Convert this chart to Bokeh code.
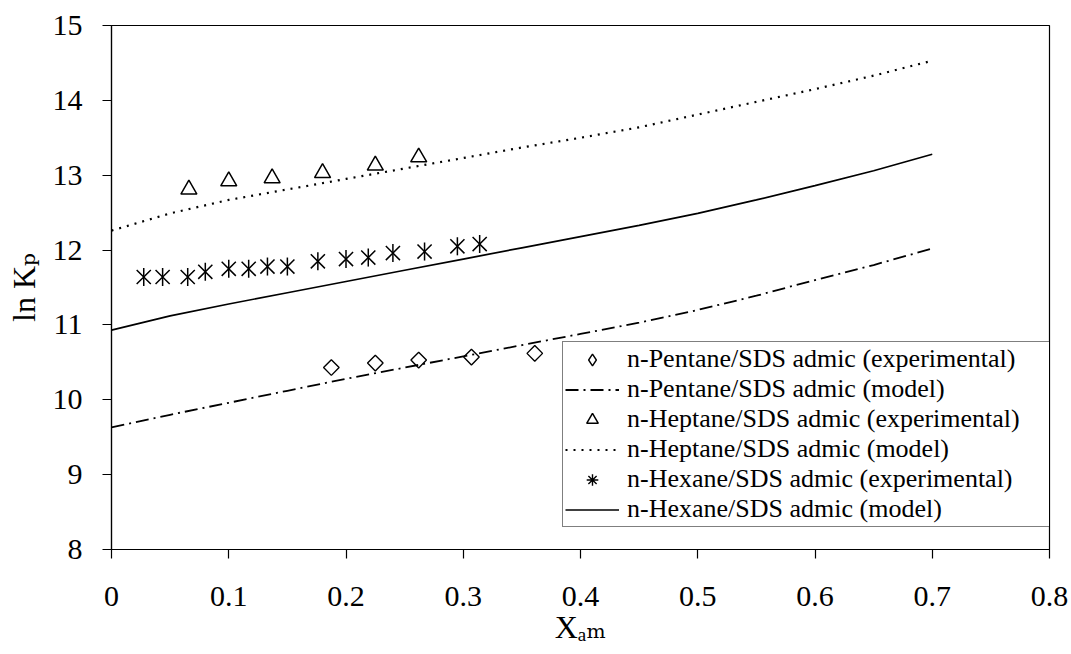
import math
from bokeh.plotting import figure
from bokeh.models import Range1d, FixedTicker, Legend, LegendItem
from bokeh.embed import file_html
from bokeh.resources import INLINE

# ---------------- data ----------------
pentane_exp_x = [0.1875, 0.225, 0.262, 0.307, 0.361]
pentane_exp_y = [10.43, 10.49, 10.53, 10.57, 10.62]

heptane_exp_x = [0.066, 0.100, 0.137, 0.180, 0.225, 0.262]
heptane_exp_y = [12.81, 12.92, 12.96, 13.03, 13.13, 13.24]

hexane_exp_x = [0.0275, 0.0436, 0.065, 0.080, 0.100, 0.117, 0.133, 0.150,
                0.176, 0.200, 0.219, 0.240, 0.267, 0.295, 0.314]
hexane_exp_y = [11.64, 11.64, 11.64, 11.71, 11.75, 11.75, 11.78, 11.78,
                11.85, 11.88, 11.90, 11.96, 11.98, 12.05, 12.08]

model_x = [0.0, 0.05, 0.1, 0.15, 0.2, 0.25, 0.3, 0.35, 0.4, 0.45, 0.5,
           0.55, 0.6, 0.65, 0.7]
pentane_model_y = [9.63, 9.80, 9.96, 10.12, 10.28, 10.43, 10.58, 10.73,
                   10.88, 11.03, 11.20, 11.39, 11.60, 11.80, 12.02]
hexane_model_y = [10.93, 11.12, 11.28, 11.43, 11.58, 11.73, 11.88, 12.03,
                  12.18, 12.33, 12.49, 12.67, 12.86, 13.06, 13.28]
heptane_model_y = [12.26, 12.49, 12.67, 12.81, 12.95, 13.09, 13.23, 13.37,
                   13.50, 13.64, 13.81, 13.98, 14.15, 14.33, 14.53]

x_ticks = [0.0, 0.1, 0.2, 0.3, 0.4, 0.5, 0.6, 0.7, 0.8]
x_tick_labels = ["0", "0.1", "0.2", "0.3", "0.4", "0.5", "0.6", "0.7", "0.8"]
y_ticks = [8, 9, 10, 11, 12, 13, 14, 15]
y_tick_labels = ["8", "9", "10", "11", "12", "13", "14", "15"]

x_title = "X\u2090\u2098"      # X_am
y_title = "ln K\u209a"         # ln K_p

legend_labels = [
    "n-Pentane/SDS admic (experimental)",
    "n-Pentane/SDS admic (model)",
    "n-Heptane/SDS admic (experimental)",
    "n-Heptane/SDS admic (model)",
    "n-Hexane/SDS admic (experimental)",
    "n-Hexane/SDS admic (model)",
]

FONT = "Liberation Serif"
TITLE_FONT = "Liberation Serif, DejaVu Serif"

# ---------------- figure ----------------
p = figure(width=1071, height=654, output_backend="svg", toolbar_location=None,
           x_range=Range1d(0, 0.8), y_range=Range1d(8, 15),
           min_border_left=111, min_border_right=22,
           min_border_top=25, min_border_bottom=105)
p.background_fill_color = "white"
p.border_fill_color = "white"
p.grid.visible = False
p.outline_line_color = "black"
p.outline_line_width = 1.2

for ax in (p.xaxis[0], p.yaxis[0]):
    ax.axis_line_color = "black"
    ax.axis_line_width = 1.2
    ax.major_tick_line_color = "black"
    ax.major_tick_line_width = 1.2
    ax.major_tick_out = 9
    ax.major_tick_in = 0
    ax.minor_tick_line_color = None
    ax.major_label_text_font = FONT
    ax.major_label_text_font_size = "30px"
    ax.major_label_text_color = "black"
    ax.axis_label_text_font = TITLE_FONT
    ax.axis_label_text_font_size = "32px"
    ax.axis_label_text_font_style = "normal"
    ax.axis_label_text_color = "black"

p.xaxis.ticker = FixedTicker(ticks=x_ticks)
p.xaxis.major_label_overrides = dict(zip(x_ticks, x_tick_labels))
p.xaxis.major_label_standoff = 28
p.xaxis.axis_label = x_title
p.xaxis.axis_label_standoff = 0

p.yaxis.ticker = FixedTicker(ticks=y_ticks)
p.yaxis.major_label_overrides = dict(zip(y_ticks, y_tick_labels))
p.yaxis.major_label_standoff = 20
p.yaxis.axis_label = y_title
p.yaxis.axis_label_standoff = 8

# ---------------- glyphs ----------------
r_pent_exp = p.scatter(pentane_exp_x, pentane_exp_y, marker="square", size=11,
                       angle=math.pi / 4, fill_color=None, line_color="black",
                       line_width=1.4)
# zero-size twin: only used for the legend sample (legend markers are never rotated)
r_pent_leg = p.scatter(pentane_exp_x, pentane_exp_y, marker="diamond", size=0,
                       fill_color=None, line_color="black", line_width=1.4)
r_pent_mod = p.line(model_x, pentane_model_y, line_color="black", line_width=1.8,
                    line_dash="13 5 2 5")
r_hept_exp = p.scatter(heptane_exp_x, heptane_exp_y, marker="triangle", size=16,
                       fill_color=None, line_color="black", line_width=1.5)
r_hept_mod = p.line(model_x, heptane_model_y, line_color="black", line_width=2.2,
                    line_dash="2 6")
r_hex_x = p.scatter(hexane_exp_x, hexane_exp_y, marker="x", size=20,
                    line_color="black", line_width=1.5)
r_hex_v = p.scatter(hexane_exp_x, hexane_exp_y, marker="dash", size=18,
                    angle=math.pi / 2, line_color="black", line_width=1.5)
r_hex_leg = p.scatter(hexane_exp_x, hexane_exp_y, marker="asterisk", size=0,
                      line_color="black", line_width=1.4)
r_hex_mod = p.line(model_x, hexane_model_y, line_color="black", line_width=1.7)

legend_renderers = [[r_pent_leg], [r_pent_mod], [r_hept_exp], [r_hept_mod],
                    [r_hex_leg], [r_hex_mod]]
legend = Legend(items=[LegendItem(label=lab, renderers=rs)
                       for lab, rs in zip(legend_labels, legend_renderers)],
                location=(451, 22), orientation="vertical",
                label_text_font=FONT, label_text_font_size="26px",
                label_text_color="black", label_height=29, glyph_height=29,
                glyph_width=54, label_standoff=8, label_width=420,
                padding=2, spacing=0, margin=0,
                border_line_color="black", border_line_width=1.2,
                background_fill_color="white", background_fill_alpha=1.0)
p.add_layout(legend, "center")

open("out.html", "w").write(file_html(p, INLINE))
